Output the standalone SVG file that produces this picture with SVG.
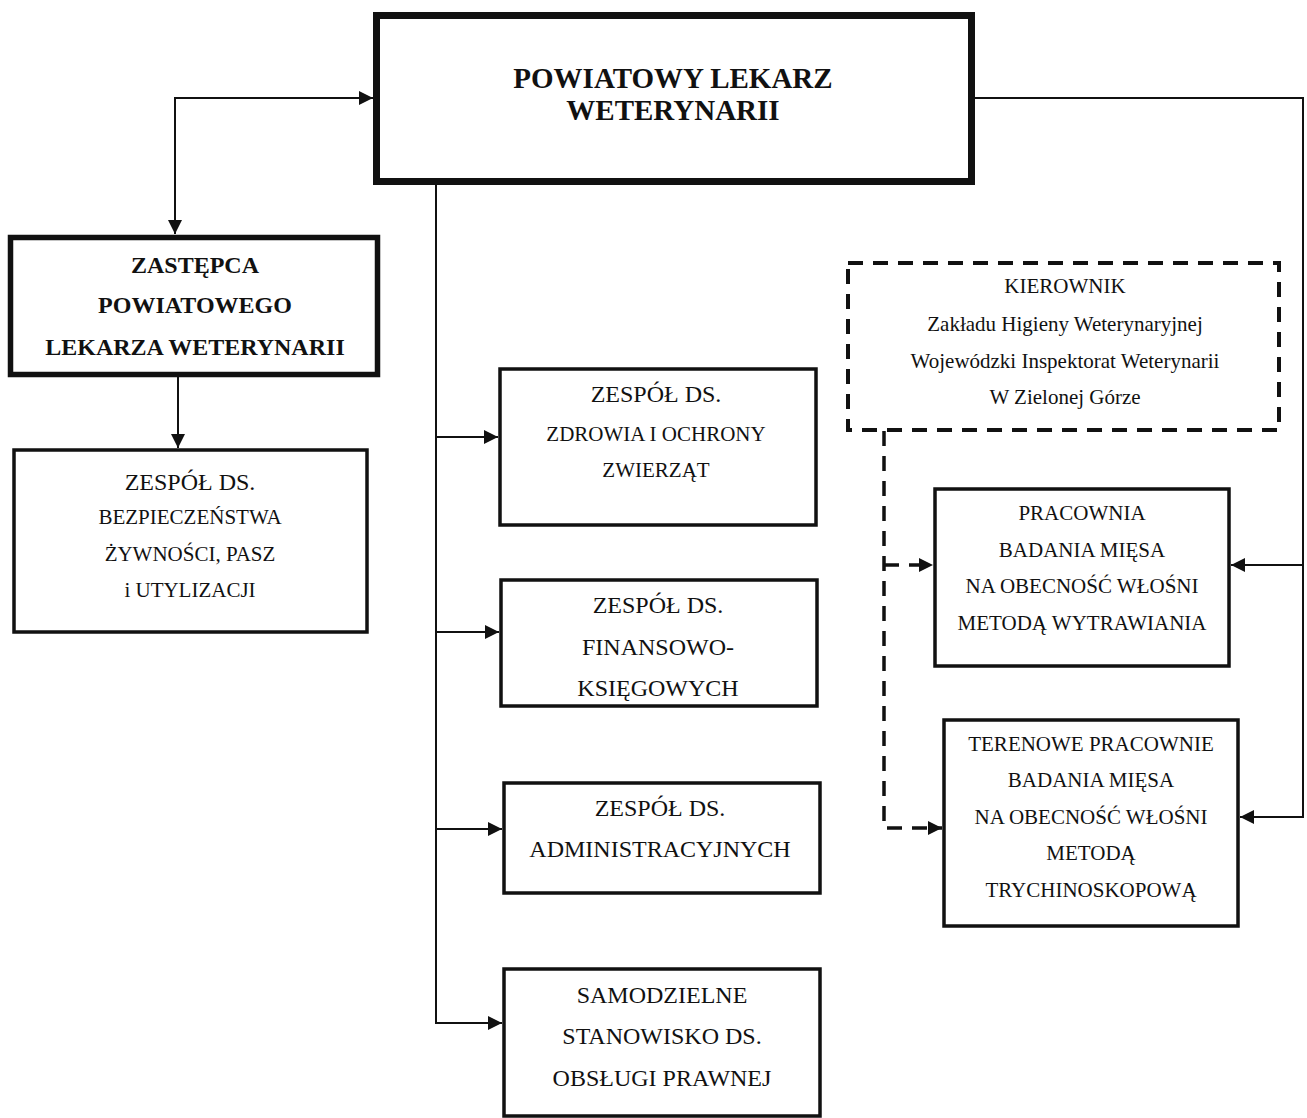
<svg xmlns="http://www.w3.org/2000/svg" width="1307" height="1118" viewBox="0 0 1307 1118">
<defs>
<style>
.box{fill:#fff;stroke:#111;stroke-width:3.5}
.thick{fill:#fff;stroke:#111;stroke-width:7}
.mid{fill:#fff;stroke:#111;stroke-width:5.5}
.dash{fill:none;stroke:#111;stroke-width:4;stroke-dasharray:15 10}
.con{fill:none;stroke:#111;stroke-width:2}
.dcon{fill:none;stroke:#111;stroke-width:3.5;stroke-dasharray:15 10}
text{font-family:"Liberation Serif","Times New Roman",serif;fill:#111;text-anchor:middle}
.b{font-weight:bold}
.t21{font-size:21px}
.t24{font-size:24px}
</style>
<marker id="arr" markerUnits="userSpaceOnUse" markerWidth="15" markerHeight="14" refX="14" refY="7" orient="auto">
<path d="M0,0 L14,7 L0,14 z" fill="#111"/>
</marker>
</defs>
<rect width="1307" height="1118" fill="#fff"/>

<g id="connectors">
<path class="con" d="M373 98 H175 V234" marker-end="url(#arr)"/>
<path class="con" d="M175 98 H373" marker-end="url(#arr)"/>
<path class="con" d="M178 377 V448" marker-end="url(#arr)"/>
<path class="con" d="M436 183 V1023 H502" marker-end="url(#arr)"/>
<path class="con" d="M436 437 H498" marker-end="url(#arr)"/>
<path class="con" d="M436 632 H499" marker-end="url(#arr)"/>
<path class="con" d="M436 829 H502" marker-end="url(#arr)"/>
<path class="con" d="M975 98 H1303 V817 H1240" marker-end="url(#arr)"/>
<path class="con" d="M1303 565 H1231" marker-end="url(#arr)"/>
<path class="dcon" d="M884 431 V828 H942" marker-end="url(#arr)"/>
<path class="dcon" d="M884 565 H933" marker-end="url(#arr)"/>
</g>

<g id="n-plw">
<rect class="thick" x="376.5" y="15.5" width="595" height="166"/>
<text class="b" font-size="29" x="673" y="88">POWIATOWY LEKARZ</text>
<text class="b" font-size="29" x="673" y="120">WETERYNARII</text>
</g>

<g id="n-zastepca">
<rect class="mid" x="10.5" y="237.5" width="367" height="137"/>
<text class="b t24" x="195" y="273">ZASTĘPCA</text>
<text class="b t24" x="195" y="313">POWIATOWEGO</text>
<text class="b t24" x="195" y="355">LEKARZA WETERYNARII</text>
</g>

<g id="n-bezp">
<rect class="box" x="14" y="450" width="353" height="182"/>
<text class="t24" x="190" y="490">ZESPÓŁ DS.</text>
<text class="t21" x="190" y="524">BEZPIECZEŃSTWA</text>
<text class="t21" x="190" y="561">ŻYWNOŚCI, PASZ</text>
<text class="t21" x="190" y="597">i UTYLIZACJI</text>
</g>

<g id="n-zdrowia">
<rect class="box" x="500" y="369" width="316" height="156"/>
<text class="t24" x="656" y="402">ZESPÓŁ DS.</text>
<text class="t21" x="656" y="441">ZDROWIA I OCHRONY</text>
<text class="t21" x="656" y="477">ZWIERZĄT</text>
</g>

<g id="n-finanse">
<rect class="box" x="501" y="580" width="316" height="126"/>
<text class="t24" x="658" y="613">ZESPÓŁ DS.</text>
<text class="t24" x="658" y="655">FINANSOWO-</text>
<text class="t24" x="658" y="696">KSIĘGOWYCH</text>
</g>

<g id="n-admin">
<rect class="box" x="504" y="783" width="316" height="110"/>
<text class="t24" x="660" y="816">ZESPÓŁ DS.</text>
<text class="t24" x="660" y="857">ADMINISTRACYJNYCH</text>
</g>

<g id="n-prawna">
<rect class="box" x="504" y="969" width="316" height="147"/>
<text class="t24" x="662" y="1003">SAMODZIELNE</text>
<text class="t24" x="662" y="1044">STANOWISKO DS.</text>
<text class="t24" x="662" y="1086">OBSŁUGI PRAWNEJ</text>
</g>

<g id="n-kierownik">
<rect class="dash" x="848" y="263" width="431" height="167"/>
<text class="t21" x="1065" y="293">KIEROWNIK</text>
<text class="t21" x="1065" y="331">Zakładu Higieny Weterynaryjnej</text>
<text class="t21" x="1065" y="368">Wojewódzki Inspektorat Weterynarii</text>
<text class="t21" x="1065" y="404">W Zielonej Górze</text>
</g>

<g id="n-pracownia">
<rect class="box" x="935" y="489" width="294" height="177"/>
<text class="t21" x="1082" y="520">PRACOWNIA</text>
<text class="t21" x="1082" y="557">BADANIA MIĘSA</text>
<text class="t21" x="1082" y="593">NA OBECNOŚĆ WŁOŚNI</text>
<text class="t21" x="1082" y="630">METODĄ WYTRAWIANIA</text>
</g>

<g id="n-terenowe">
<rect class="box" x="944" y="720" width="294" height="206"/>
<text class="t21" x="1091" y="751">TERENOWE PRACOWNIE</text>
<text class="t21" x="1091" y="787">BADANIA MIĘSA</text>
<text class="t21" x="1091" y="824">NA OBECNOŚĆ WŁOŚNI</text>
<text class="t21" x="1091" y="860">METODĄ</text>
<text class="t21" x="1091" y="897">TRYCHINOSKOPOWĄ</text>
</g>
</svg>
